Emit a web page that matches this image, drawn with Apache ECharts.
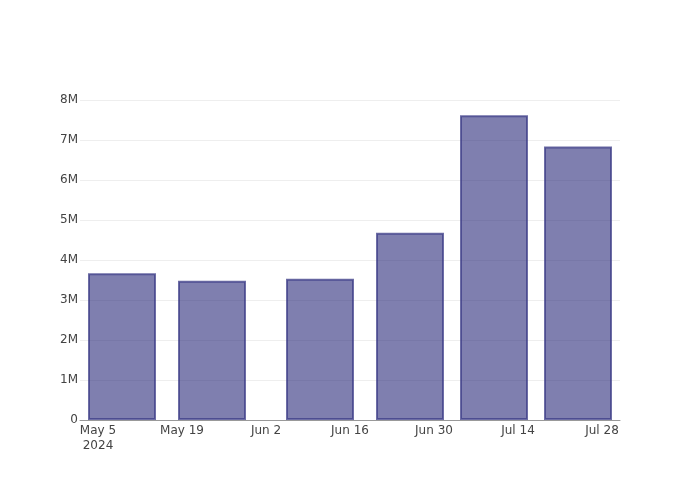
<!DOCTYPE html>
<html>
<head>
<meta charset="utf-8">
<script src="https://cdn.jsdelivr.net/npm/echarts@6/dist/echarts.min.js"></script>
<style>html,body{margin:0;padding:0;background:#fff}#c{width:700px;height:500px}</style>
</head>
<body>
<div id="c"></div>
<script>
// Data
const dates = ['2024-05-09', '2024-05-24', '2024-06-11', '2024-06-26', '2024-07-10', '2024-07-24'];
const values = [3670000, 3480000, 3530000, 4680000, 7620000, 6840000];
const xTickDates = ['2024-05-05', '2024-05-19', '2024-06-02', '2024-06-16', '2024-06-30', '2024-07-14', '2024-07-28'];
const yTicks = [0, 1000000, 2000000, 3000000, 4000000, 5000000, 6000000, 7000000, 8000000];
const monthNames = ['Jan','Feb','Mar','Apr','May','Jun','Jul','Aug','Sep','Oct','Nov','Dec'];

function ts(s) { const p = s.split('-').map(Number); return new Date(p[0], p[1] - 1, p[2]).getTime(); }
const xTickTs = xTickDates.map(ts);

const chart = echarts.init(document.getElementById('c'), null, { renderer: 'canvas' });
chart.setOption({
  animation: false,
  textStyle: { fontFamily: '"DejaVu Sans", verdana, arial, sans-serif' },
  grid: { left: 80, right: 80, top: 100, bottom: 80, containLabel: false },
  xAxis: {
    type: 'value',
    min: ts('2024-05-02'),
    max: ts('2024-07-31'),
    axisLine: { show: true, lineStyle: { color: '#999', width: 1 } },
    axisTick: { show: false },
    splitLine: { show: false },
    axisLabel: {
      customValues: xTickTs,
      color: '#444',
      fontSize: 12,
      lineHeight: 15,
      margin: 3,
      hideOverlap: false,
      formatter: function (v) {
        const d = new Date(v);
        let s = monthNames[d.getMonth()] + ' ' + d.getDate();
        if (v === xTickTs[0]) s += '\n' + d.getFullYear();
        return s;
      }
    }
  },
  yAxis: {
    type: 'value',
    min: 0,
    max: 8000000,
    interval: 1000000,
    axisLine: { show: false },
    axisTick: { show: false },
    splitLine: { show: true, lineStyle: { color: '#eeeeee', width: 1 } },
    axisLabel: {
      customValues: yTicks,
      color: '#444',
      fontSize: 12,
      margin: 2,
      formatter: function (v) { return v === 0 ? '0' : (v / 1000000) + 'M'; }
    }
  },
  series: [{
    type: 'bar',
    data: dates.map((d, i) => [ts(d), values[i]]),
    barWidth: 68,
    itemStyle: {
      color: 'rgba(42,42,122,0.6)',
      borderColor: 'rgba(60,60,135,0.75)',
      borderWidth: 2
    }
  }]
});
</script>
</body>
</html>
